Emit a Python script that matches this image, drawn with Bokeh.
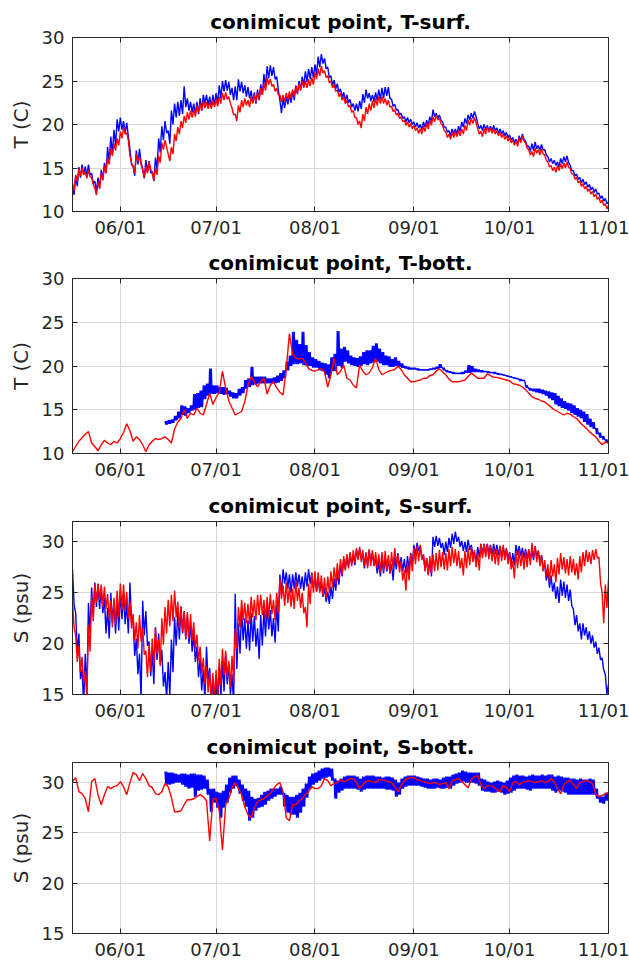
import numpy as np
from datetime import datetime, timedelta
from bokeh.plotting import figure
from bokeh.models import Range1d, FixedTicker, DatetimeTickFormatter, LinearAxis, DatetimeAxis
from bokeh.layouts import column
from bokeh.embed import file_html
from bokeh.resources import INLINE

# ---------------- data ----------------
series_start = "2015-05-17"      # first day of the record
blue_bott_start = "2015-06-15"   # bottom sensor (blue) starts later
x_start = "2015-05-17"
x_end = "2015-11-01"
month_ticks = ["2015-06-01", "2015-07-01", "2015-08-01", "2015-09-01", "2015-10-01", "2015-11-01"]

titles = ["conimicut point, T-surf.", "conimicut point, T-bott.",
          "conimicut point, S-surf.", "conimicut point, S-bott."]
ylabels = ["T (C)", "T (C)", "S (psu)", "S (psu)"]
t_ticks = [10, 15, 20, 25, 30]
s_ticks = [15, 20, 25, 30]

# daily upper / lower envelope of each trace (one value per day)
tsurf_blue_hi = [13.1,14.1,15.1,15.4,15.2,15.4,14.4,13.5,13.9,14.8,
 15.6,17.4,18.6,19.4,20.6,20.8,20.4,20.2,17.2,15.2,
 17.0,17.2,14.9,15.9,15.8,14.6,16.2,18.4,19.8,20.4,
 19.3,21.6,22.4,22.6,22.8,24.4,23.0,22.6,22.4,22.6,
 23.0,23.4,23.4,23.2,23.4,23.6,24.5,25.0,25.1,24.9,
 24.2,24.4,25.2,24.9,24.5,24.3,23.9,23.7,24.0,24.6,
 25.8,26.7,26.8,26.6,25.5,22.8,23.0,23.3,23.5,23.8,
 24.5,25.0,25.5,26.1,26.4,26.6,26.9,27.8,28.1,27.6,
 26.6,25.6,25.1,24.7,24.1,23.7,23.4,22.9,22.4,22.4,
 22.7,23.5,24.0,23.6,23.4,23.7,24.0,24.2,24.3,24.3,
 22.9,22.3,21.7,21.3,20.9,20.8,20.6,20.3,20.2,20.0,
 20.3,20.5,20.9,21.7,21.3,21.1,20.3,19.7,19.3,19.5,
 19.5,19.8,20.3,20.7,21.1,21.3,21.5,20.1,19.9,20.0,
 19.9,19.8,19.9,19.6,19.5,19.3,19.1,18.8,18.5,18.3,
 18.7,18.9,18.1,17.5,17.8,18.0,17.6,17.7,17.1,16.3,
 16.1,15.9,15.7,16.1,16.3,16.4,15.3,14.7,14.3,13.9,
 13.7,13.4,13.1,12.8,12.6,12.1,11.8,11.5,11.1]
tsurf_blue_lo = [11.9,12.9,13.9,14.2,14.0,14.2,13.2,12.3,12.7,13.6,
 14.4,15.6,16.6,17.6,19.2,19.4,19.0,18.6,15.4,14.1,
 15.4,15.6,13.8,14.6,14.4,13.5,14.8,16.8,18.2,19.0,
 17.8,20.0,20.8,21.0,21.2,22.0,21.6,21.4,21.2,21.2,
 21.6,22.4,22.2,21.9,22.2,22.4,23.0,23.8,23.9,23.4,
 22.8,22.8,23.8,23.6,23.2,23.0,22.5,22.4,22.8,23.4,
 24.3,25.3,25.6,25.2,24.0,21.3,21.9,22.3,22.5,22.8,
 23.5,24.0,24.5,24.9,25.2,25.4,25.7,26.6,27.0,26.4,
 25.4,24.5,24.1,23.7,23.1,22.7,22.5,22.0,21.6,21.5,
 21.8,22.5,23.0,22.7,22.6,22.8,22.9,23.0,23.3,23.0,
 22.1,21.7,21.1,20.7,20.3,20.2,20.0,19.7,19.6,19.4,
 19.7,19.9,20.3,20.9,20.7,20.5,19.7,19.1,18.7,18.9,
 18.9,19.2,19.7,20.1,20.5,20.7,20.9,19.5,19.3,19.4,
 19.3,19.2,19.3,19.0,18.9,18.7,18.5,18.2,17.9,17.7,
 18.1,18.3,17.5,16.9,17.0,17.2,17.0,17.1,16.5,15.7,
 15.5,15.3,15.1,15.5,15.7,15.6,14.7,14.1,13.7,13.3,
 13.1,12.8,12.5,12.2,12.0,11.5,11.2,10.9,10.7]
tsurf_red_hi = [13.2,14.2,14.9,15.0,14.6,14.8,13.9,12.7,13.4,14.4,
 15.2,16.2,17.2,17.8,18.4,19.2,19.7,19.0,16.4,15.2,
 16.6,16.2,14.7,15.2,15.7,14.4,15.0,16.4,17.9,18.2,
 16.6,17.4,18.9,19.7,20.4,21.0,21.4,21.6,21.7,22.2,
 22.4,22.7,22.6,22.6,22.8,22.9,23.2,23.6,23.7,23.2,
 21.9,21.2,22.2,22.8,23.0,22.8,23.2,23.4,23.7,24.2,
 24.7,25.4,25.2,24.6,24.2,23.4,23.4,23.6,23.8,24.0,
 24.4,24.7,25.0,25.0,25.2,25.4,26.0,26.4,26.7,26.2,
 25.6,25.0,24.6,24.0,23.6,23.2,22.8,22.2,21.6,20.8,
 20.4,21.2,22.0,22.4,22.7,23.0,23.2,23.2,23.0,22.8,
 22.1,21.7,21.3,20.9,20.5,20.3,20.1,19.9,19.6,19.5,
 19.8,20.1,20.5,20.9,21.1,20.7,19.9,19.1,18.9,19.1,
 19.2,19.3,19.5,19.9,20.5,20.7,20.8,19.5,19.2,19.5,
 19.7,19.6,19.5,19.3,19.1,18.9,18.7,18.5,18.2,18.1,
 18.5,18.7,17.9,17.1,16.9,17.3,17.1,17.2,16.5,15.7,
 15.3,15.1,15.3,15.5,15.6,15.7,14.9,14.3,13.9,13.5,
 13.2,12.9,12.6,12.3,12.0,11.6,11.3,10.9,10.7]
tsurf_red_lo = [12.4,13.4,14.1,14.2,13.8,14.0,13.1,11.9,12.6,13.6,
 14.4,15.4,16.4,17.0,17.6,18.4,18.9,18.2,15.6,14.4,
 15.8,15.4,13.9,14.4,14.9,13.6,14.2,15.6,17.1,17.4,
 15.8,16.6,18.1,18.9,19.6,20.2,20.6,20.8,20.9,21.4,
 21.6,21.9,21.8,21.8,22.0,22.1,22.4,22.8,22.9,22.4,
 21.1,20.4,21.4,22.0,22.2,22.0,22.4,22.6,22.9,23.4,
 23.9,24.6,24.4,23.8,23.4,22.6,22.6,22.8,23.0,23.2,
 23.6,23.9,24.2,24.2,24.4,24.6,25.2,25.6,25.9,25.4,
 24.8,24.2,23.8,23.2,22.8,22.4,22.0,21.4,20.8,20.0,
 19.6,20.4,21.2,21.6,21.9,22.2,22.4,22.4,22.2,22.0,
 21.5,21.1,20.7,20.3,19.9,19.7,19.5,19.3,19.0,18.9,
 19.2,19.5,19.9,20.3,20.5,20.1,19.3,18.5,18.3,18.5,
 18.6,18.7,18.9,19.3,19.9,20.1,20.2,18.9,18.6,18.9,
 19.1,19.0,18.9,18.7,18.5,18.3,18.1,17.9,17.6,17.5,
 17.9,18.1,17.3,16.5,16.3,16.7,16.5,16.6,15.9,15.1,
 14.7,14.5,14.7,14.9,15.0,15.1,14.3,13.7,13.3,12.9,
 12.6,12.3,12.0,11.7,11.4,11.0,10.7,10.3,10.1]

# bottom temperature: blue from 2015-06-15, red from the start
tbott_blue_hi = [13.7,13.8,13.9,14.3,14.8,15.5,15.4,15.2,15.5,16.8,
 16.9,17.2,17.8,18.0,19.7,17.8,17.8,17.6,17.6,17.5,
 17.2,17.0,16.9,17.4,17.6,18.4,18.6,19.9,18.8,18.8,
 18.8,18.8,18.6,18.6,18.7,18.9,19.2,19.5,20.5,21.2,
 23.9,23.0,22.5,23.9,22.4,21.6,21.0,20.8,20.6,20.4,
 20.3,20.2,21.0,21.4,24.0,22.0,22.2,21.8,21.2,21.0,
 20.9,21.1,21.6,21.8,21.8,22.3,22.6,22.0,21.6,21.2,
 21.1,20.8,21.0,20.6,20.3,20.0,19.9,19.8,19.8,19.7,
 19.6,19.6,19.6,19.7,19.8,19.9,20.2,19.8,19.5,19.4,
 19.3,19.2,19.2,19.3,19.5,20.1,20.0,19.7,19.6,19.5,
 19.4,19.4,19.3,19.3,19.2,19.1,19.0,18.9,18.8,18.7,
 18.6,18.5,18.4,17.8,17.5,17.4,17.4,17.4,17.3,17.2,
 17.1,17.0,16.9,16.6,16.3,16.0,15.8,15.7,15.5,15.2,
 15.0,14.8,14.5,14.0,13.6,12.9,12.4,12.0,11.6,11.4]
tbott_blue_lo = [13.3,13.4,13.5,13.8,14.0,14.4,14.3,14.6,14.9,15.0,
 15.2,15.3,16.2,16.6,16.8,16.8,16.9,16.8,16.7,16.8,
 16.5,16.3,16.3,16.6,16.9,17.4,17.6,17.8,17.9,18.0,
 18.0,18.0,18.0,18.0,18.0,18.1,18.3,18.6,19.5,20.0,
 20.2,20.2,20.3,20.1,20.0,20.0,19.8,19.8,19.5,19.4,
 19.0,18.6,19.4,19.4,20.0,19.8,20.5,20.3,20.1,20.0,
 19.9,20.0,20.2,20.1,20.3,20.4,20.5,20.3,20.1,20.1,
 19.9,19.9,20.0,19.9,19.8,19.7,19.6,19.6,19.6,19.5,
 19.5,19.5,19.5,19.6,19.6,19.7,19.8,19.5,19.3,19.2,
 19.1,19.1,19.1,19.1,19.2,19.2,19.3,19.3,19.3,19.3,
 19.3,19.2,19.2,19.1,19.0,19.0,18.9,18.8,18.7,18.6,
 18.5,18.3,18.3,17.5,17.2,17.1,17.0,16.9,16.8,16.6,
 16.3,16.1,15.6,15.4,15.2,15.1,14.9,14.6,14.4,14.2,
 14.0,13.6,13.3,13.0,12.8,12.2,11.8,11.6,11.3,11.2]
tbott_red = [10.2,10.8,11.4,11.8,12.2,12.5,11.2,10.8,10.3,11.0,
 11.5,11.2,11.0,11.4,11.2,11.7,12.4,13.4,12.6,11.4,
 11.9,11.6,11.0,10.2,11.0,11.4,11.7,11.6,11.7,11.9,
 11.6,11.2,12.8,13.6,14.0,15.0,14.0,14.6,14.4,15.2,
 14.6,14.4,15.6,16.9,15.6,16.4,17.0,19.4,17.5,16.0,
 15.2,14.4,14.6,14.8,15.9,17.8,18.8,18.2,17.6,18.2,
 18.6,16.8,17.8,18.2,17.5,17.0,16.7,19.7,23.7,21.3,
 20.9,20.8,20.9,20.4,19.7,19.5,19.4,19.6,19.7,19.3,
 17.6,19.0,20.9,19.0,19.4,20.1,18.6,18.4,17.8,17.5,
 20.1,19.4,19.0,19.2,19.8,20.9,19.6,19.0,19.2,19.4,
 19.5,19.6,20.0,19.6,19.0,18.6,18.2,18.2,18.3,18.4,
 18.6,18.6,18.9,19.0,19.4,19.7,19.3,19.0,18.5,18.2,
 18.2,18.2,18.3,18.4,18.8,19.2,18.9,18.6,18.6,18.6,
 19.1,18.9,18.7,18.7,18.6,18.5,18.4,18.3,18.0,17.9,
 17.8,17.6,17.3,16.9,16.5,16.3,16.2,16.0,15.9,15.6,
 15.3,15.0,14.8,14.6,14.4,14.6,14.5,14.2,14.0,13.6,
 13.2,12.9,12.5,12.2,11.9,11.4,11.0,11.3,11.2]

ssurf_blue_hi = [27.3,23.0,21.0,17.5,19.0,24.0,25.5,26.0,25.8,25.5,
 24.5,23.5,25.0,24.2,24.3,25.2,24.9,24.0,26.0,22.2,
 20.5,19.0,24.2,23.2,20.2,19.2,21.6,21.0,19.4,17.2,
 18.2,20.4,22.6,23.2,23.6,23.2,22.8,22.0,21.0,19.7,
 18.6,17.5,19.7,17.6,16.2,16.5,17.8,18.3,19.0,18.0,
 17.0,24.9,22.0,23.3,22.5,22.3,23.0,22.7,21.5,22.8,
 23.3,23.8,23.3,22.5,23.8,26.8,27.3,27.0,26.8,26.8,
 27.0,26.8,26.6,27.0,27.3,26.9,26.5,26.5,26.0,25.5,
 25.1,25.6,26.4,27.0,27.8,28.3,28.6,28.8,28.7,29.2,
 29.3,28.6,28.9,29.2,28.9,28.3,28.0,28.3,28.5,28.3,
 27.8,28.7,28.9,28.5,28.3,28.6,28.9,29.7,29.9,29.6,
 28.7,28.4,28.2,30.5,30.6,30.4,29.9,30.0,30.4,30.8,
 31.0,30.5,30.1,30.0,30.2,29.7,29.0,29.5,29.8,29.8,
 29.8,29.7,29.8,29.7,29.6,29.5,29.3,29.0,28.9,29.7,
 29.6,29.4,29.3,29.2,29.2,29.5,29.1,28.7,27.8,27.1,
 26.7,26.0,25.6,26.3,26.1,25.8,25.3,23.4,22.8,22.0,
 22.0,21.6,21.2,20.8,20.2,19.6,18.6,17.0,16.0]
ssurf_blue_lo = [23.8,19.0,16.5,14.0,15.0,21.0,22.8,23.6,23.4,23.0,
 21.0,20.5,22.0,21.0,21.3,22.4,21.9,21.0,22.2,18.8,
 17.0,14.5,20.8,19.8,16.8,16.0,18.4,18.0,15.8,14.5,
 14.8,17.2,19.8,20.4,21.0,20.4,20.0,19.2,18.2,16.7,
 15.4,14.5,16.3,14.4,14.0,14.0,14.8,15.3,16.0,15.0,
 14.0,17.5,19.0,20.3,19.5,19.3,20.2,19.7,18.5,19.8,
 20.7,21.4,20.7,20.1,21.2,24.8,25.9,25.4,25.0,25.4,
 25.6,25.4,25.2,25.6,25.9,25.5,25.1,25.1,24.6,24.1,
 23.9,24.4,25.2,25.8,26.6,27.3,27.6,27.8,27.7,28.4,
 28.5,27.4,27.7,28.0,27.7,26.9,26.6,26.9,27.1,26.9,
 26.2,27.3,27.5,27.1,26.9,27.2,27.7,28.7,29.1,28.4,
 27.3,26.8,26.6,29.5,29.6,29.4,28.7,29.0,29.4,29.8,
 30.0,29.5,29.1,29.0,29.2,28.7,27.8,28.5,28.8,28.8,
 28.8,28.7,28.8,28.7,28.6,28.5,28.3,27.8,27.7,28.7,
 28.6,28.4,28.3,28.2,28.2,28.5,28.1,27.5,26.2,25.5,
 25.1,24.4,24.0,24.7,24.5,24.2,23.7,21.8,21.2,20.4,
 20.8,20.4,20.0,19.6,19.0,18.4,17.4,15.0,14.5]
ssurf_red_hi = [24.2,20.8,19.8,18.7,17.3,21.8,24.8,25.8,25.9,25.8,
 25.6,24.9,24.2,24.5,25.2,25.9,25.8,25.1,24.1,22.9,
 22.1,22.8,21.5,19.3,19.9,20.5,21.6,20.4,22.5,23.6,
 24.3,24.8,25.2,24.1,23.7,23.1,23.1,22.9,22.1,20.9,
 19.7,18.6,17.8,17.2,17.1,17.4,18.5,19.5,19.3,18.3,
 18.8,21.5,23.6,24.3,24.0,23.9,24.6,24.3,24.8,24.8,
 24.3,24.6,24.9,24.3,25.0,26.4,25.7,26.0,25.6,25.4,
 26.2,25.5,25.0,23.6,25.9,27.0,27.1,27.0,26.7,26.5,
 26.6,27.1,27.5,27.9,28.3,28.6,28.8,29.0,29.2,29.4,
 29.5,29.2,29.0,29.3,29.2,29.0,28.8,29.0,29.1,28.7,
 29.0,29.4,28.8,28.1,27.2,28.0,28.8,29.4,29.6,29.7,
 28.8,28.4,28.6,28.8,28.9,29.2,29.0,28.9,29.3,29.5,
 29.3,29.1,28.4,29.1,29.4,29.5,29.2,28.9,29.8,29.8,
 29.8,29.6,29.4,29.3,29.6,29.7,29.4,29.0,28.1,29.1,
 29.2,28.9,29.1,29.3,29.9,29.6,29.2,28.7,28.2,27.8,
 28.2,27.8,28.4,28.9,28.5,28.3,28.6,28.3,27.9,28.6,
 29.0,29.2,29.0,29.2,29.3,28.5,25.0,25.8,26.3]
ssurf_red_lo = [21.6,18.2,17.2,16.1,14.7,19.2,22.2,24.0,24.3,23.6,
 23.4,22.3,21.6,21.9,22.6,23.3,23.2,22.5,21.5,20.3,
 19.5,20.2,18.9,16.7,17.3,17.9,19.0,17.8,19.9,21.0,
 21.7,22.2,22.6,21.5,21.1,20.5,20.5,20.3,19.5,18.3,
 17.1,16.0,15.2,14.6,14.5,14.8,15.9,16.9,16.7,15.7,
 16.2,19.5,21.6,22.3,22.0,21.9,22.6,22.3,22.8,22.8,
 22.3,22.6,22.9,22.3,23.0,24.4,23.7,24.0,23.6,23.4,
 24.2,23.5,23.0,21.6,23.9,25.0,25.1,25.0,24.7,24.5,
 25.0,25.5,25.9,26.3,26.8,27.2,27.4,27.6,27.9,28.2,
 28.0,27.6,27.4,27.6,27.6,27.4,27.0,27.2,27.3,26.9,
 27.4,27.8,27.0,26.2,25.2,26.2,27.1,27.8,28.1,28.2,
 27.1,26.7,26.9,27.1,27.2,27.5,27.3,27.2,27.6,27.9,
 27.6,27.4,26.7,27.4,27.7,28.0,27.5,27.2,28.4,28.5,
 28.3,28.1,27.8,27.7,28.1,28.2,27.8,27.3,26.4,27.4,
 27.6,27.3,27.5,27.7,28.4,28.0,27.6,27.1,26.6,26.0,
 26.6,26.0,26.8,27.3,26.9,26.7,27.0,26.7,26.3,27.0,
 27.6,28.0,27.8,28.2,28.4,26.0,22.0,23.5,25.6]

# bottom salinity: blue from 2015-06-15, red from the start
sbott_blue_hi = [31.1,31.0,31.0,30.9,30.8,30.9,30.9,30.8,30.9,30.9,
 30.8,30.8,30.7,30.3,29.4,29.4,29.1,29.0,29.2,29.8,
 30.5,30.7,30.7,30.3,29.8,29.4,29.2,28.6,28.4,28.5,
 28.8,29.1,29.2,29.4,29.4,29.4,29.6,29.0,28.8,28.6,
 28.6,28.8,29.0,29.4,29.9,30.6,30.9,31.0,31.2,31.4,
 31.5,31.5,31.4,30.4,30.2,30.4,30.6,30.7,30.7,30.7,
 30.6,30.4,30.6,30.7,30.7,30.7,30.6,30.6,30.5,30.6,
 30.6,30.5,30.3,30.0,30.4,30.6,30.7,30.7,30.7,30.6,
 30.5,30.4,30.4,30.3,30.4,30.4,30.3,30.5,30.6,30.6,
 30.8,30.9,31.0,31.2,31.1,31.0,31.0,31.0,31.0,30.4,
 30.3,30.1,30.0,30.1,30.2,30.1,30.0,30.2,30.5,30.7,
 30.8,30.7,30.7,30.6,30.7,30.8,30.7,30.7,30.8,30.7,
 30.8,30.8,30.6,30.7,30.6,30.5,30.5,30.4,30.4,30.3,
 30.4,30.3,30.3,30.4,30.3,29.4,28.7,28.6,29.0,29.0]
sbott_blue_lo = [29.8,29.8,29.9,30.0,30.0,29.8,29.6,29.4,29.5,28.6,
 29.2,29.3,29.4,28.8,27.1,28.0,27.5,26.5,27.5,28.0,
 29.0,29.4,29.7,28.9,28.2,27.6,26.2,26.5,27.2,27.5,
 27.6,27.8,28.2,28.4,28.6,28.8,28.8,27.6,27.0,26.8,
 26.8,26.5,27.0,27.6,28.5,29.4,29.8,30.0,30.2,30.4,
 30.5,30.6,30.2,28.4,29.0,29.2,29.4,29.4,29.4,29.4,
 29.3,29.1,29.3,29.4,29.4,29.4,29.4,29.4,29.4,29.3,
 29.3,29.2,28.6,28.8,29.4,29.6,29.7,29.7,29.7,29.7,
 29.6,29.5,29.4,29.4,29.4,29.5,29.4,29.4,29.5,29.4,
 29.7,29.9,30.0,30.1,30.0,30.0,30.0,29.9,29.7,29.2,
 29.1,29.1,29.0,29.0,29.1,29.0,28.8,28.9,29.0,29.2,
 29.4,29.4,29.4,29.3,29.2,29.4,29.4,29.4,29.4,29.4,
 29.4,29.2,29.0,29.2,29.1,29.0,28.8,28.8,28.8,28.8,
 28.8,28.8,28.8,28.8,28.8,28.4,28.0,27.9,28.2,28.4]
sbott_red = [30.1,30.5,29.1,28.9,28.4,27.1,30.1,30.4,28.8,27.8,
 28.8,29.6,29.4,29.6,29.7,30.1,29.6,28.8,30.0,31.0,
 30.8,30.2,30.9,30.4,29.7,29.5,28.9,28.8,29.1,29.9,
 29.6,28.5,27.1,27.1,27.2,27.8,28.3,28.3,28.4,28.6,
 28.8,28.6,28.2,24.2,28.4,28.4,27.2,23.3,27.8,28.4,
 29.5,30.0,29.4,28.8,27.6,26.8,26.5,27.5,28.1,28.3,
 28.4,28.7,28.9,29.4,29.8,30.0,29.1,26.5,26.2,27.8,
 27.8,28.2,28.4,28.8,29.1,29.6,29.4,29.4,29.7,30.4,
 30.2,29.7,29.9,30.0,30.3,30.1,30.2,30.4,30.4,30.0,
 29.4,29.8,30.1,30.2,30.1,30.0,30.3,30.3,30.2,30.1,
 30.0,29.6,29.1,29.7,30.2,30.4,30.5,30.5,30.3,30.2,
 30.1,30.0,29.9,30.0,30.0,29.8,29.9,30.0,29.4,30.2,
 30.3,30.4,30.1,29.8,29.5,30.3,30.6,30.7,29.8,29.4,
 29.7,29.7,29.6,29.3,29.1,29.7,29.5,29.1,30.0,30.1,
 29.8,30.0,30.1,30.2,30.1,30.0,30.1,30.2,30.0,30.1,
 30.4,30.1,29.4,28.9,29.8,30.1,30.2,29.8,29.4,30.0,
 30.1,30.2,30.1,29.9,28.8,28.6,28.7,28.9,29.0]

# ---------------- helpers ----------------
def d(s):
    return datetime.strptime(s, "%Y-%m-%d")

def band_trace(start, hi, lo, per_day):
    """walk through the daily envelope, alternating upper and lower value"""
    t0 = d(start)
    step = 24 // per_day
    xs, ys = [], []
    for i, (h, l) in enumerate(zip(hi, lo)):
        for j in range(per_day):
            xs.append(t0 + timedelta(days=i, hours=j * step))
            ys.append(h if j % 2 == 0 else l)
    return xs, ys

def daily_trace(start, vals):
    t0 = d(start)
    return [t0 + timedelta(days=i) for i in range(len(vals))], list(vals)

EPOCH = datetime(1970, 1, 1)
tick_ms = [(d(s) - EPOCH).total_seconds() * 1000.0 for s in month_ticks]

FONT = "DejaVu Sans"
DARK = "#262626"
BLUE = "#0000FF"
RED = "#FF0000"

panels = [
    (band_trace(series_start, tsurf_blue_hi, tsurf_blue_lo, 2), band_trace(series_start, tsurf_red_hi, tsurf_red_lo, 2), (10, 30), t_ticks),
    (band_trace(blue_bott_start, tbott_blue_hi, tbott_blue_lo, 4), daily_trace(series_start, tbott_red), (10, 30), t_ticks),
    (band_trace(series_start, ssurf_blue_hi, ssurf_blue_lo, 2), band_trace(series_start, ssurf_red_hi, ssurf_red_lo, 2), (15, 32), s_ticks),
    (band_trace(blue_bott_start, sbott_blue_hi, sbott_blue_lo, 4), daily_trace(series_start, sbott_red), (15, 32), s_ticks),
]
# (height, frame top border, bottom border)
sizes = [(241, 37, 30), (243, 37, 31), (241, 37, 31), (237, 37, 27)]

figs = []
for k, ((bx, by), (rx, ry), yr, yt) in enumerate(panels):
    H, top, bot = sizes[k]
    p = figure(width=629, height=H, x_axis_type="datetime",
               x_range=Range1d(d(x_start), d(x_end)), y_range=Range1d(*yr),
               output_backend="svg", toolbar_location=None, title=titles[k],
               min_border_left=72, min_border_right=21,
               min_border_top=top, min_border_bottom=bot)
    p.title.text_font = FONT
    p.title.text_font_style = "bold"
    p.title.text_font_size = "20px"
    p.title.align = "center"
    p.title.text_color = "#000000"
    p.title.standoff = 7

    p.add_layout(LinearAxis(), "right")
    p.add_layout(DatetimeAxis(), "above")

    p.xaxis.ticker = FixedTicker(ticks=tick_ms)
    p.xaxis.formatter = DatetimeTickFormatter(days="%m/%d", months="%m/%d", years="%m/%d",
                                              hours="%m/%d", hourmin="%m/%d")
    p.yaxis.ticker = FixedTicker(ticks=yt)
    for ax in list(p.xaxis) + list(p.yaxis):
        ax.axis_line_color = DARK
        ax.major_tick_line_color = DARK
        ax.major_tick_in = 5
        ax.major_tick_out = 0
        ax.minor_tick_line_color = None
        ax.major_label_text_font = FONT
        ax.major_label_text_font_size = "18px"
        ax.major_label_text_color = "#262626"
    p.below[0].major_label_standoff = 5
    p.left[0].major_label_standoff = 8
    p.left[0].axis_label = ylabels[k]
    p.left[0].axis_label_text_font = FONT
    p.left[0].axis_label_text_font_size = "20px"
    p.left[0].axis_label_text_font_style = "normal"
    p.left[0].axis_label_text_color = "#262626"
    p.left[0].axis_label_standoff = 6
    # the box's right and top edges carry inward ticks only, no labels
    for ax in (p.right[0], p.above[0]):
        ax.major_label_text_font_size = "0px"
        ax.major_label_text_color = None
        ax.major_label_text_alpha = 0
        ax.major_label_standoff = 0

    p.xgrid.grid_line_color = "#D8D8D8"
    p.ygrid.grid_line_color = "#D8D8D8"
    p.xgrid.grid_line_width = 1
    p.ygrid.grid_line_width = 1
    p.outline_line_color = DARK
    p.outline_line_width = 1
    p.background_fill_color = "white"
    p.border_fill_color = "white"

    p.line(bx, by, line_color=BLUE, line_width=1.4)
    p.line(rx, ry, line_color=RED, line_width=1.4)
    figs.append(p)

layout = column(*figs, spacing=0)
open("out.html", "w").write(file_html(layout, INLINE))
